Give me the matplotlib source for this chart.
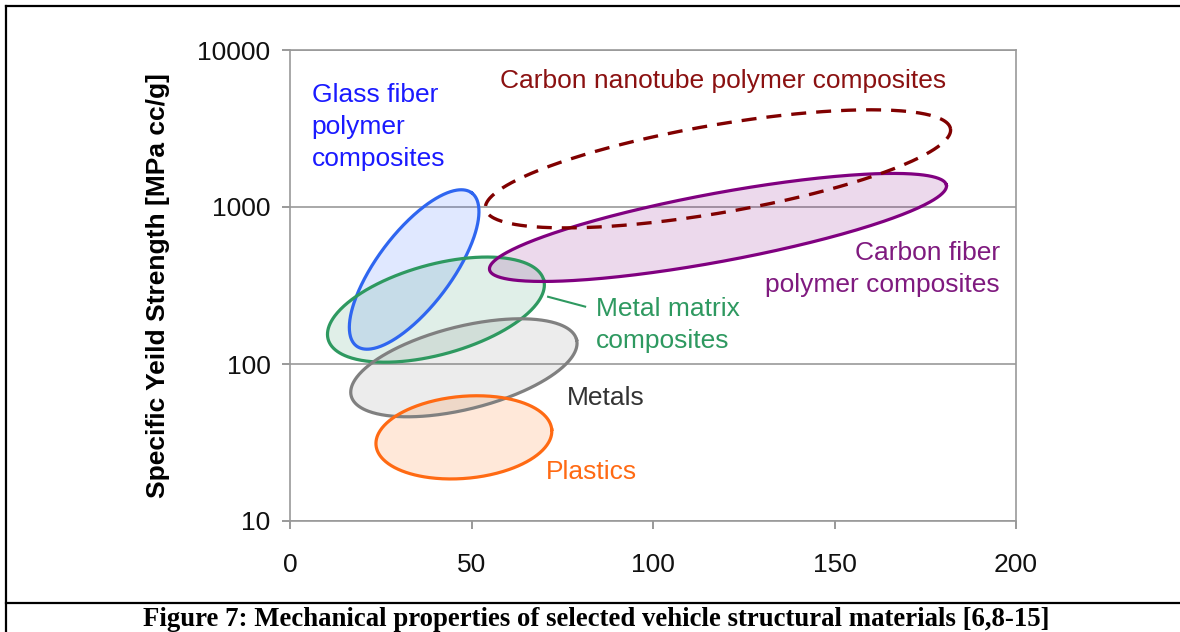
"""
Specific yield strength vs specific strength map of vehicle structural materials.
"""
import numpy as np
import matplotlib.pyplot as plt
from matplotlib.lines import Line2D

plt.rcParams["font.family"] = ["Liberation Sans", "DejaVu Sans"]

# material regions: centre (x, y), semi axes (in x units on screen), tilt in degrees
materials = ["Glass fiber", "Metal matrix", "Metals", "Plastics", "Carbon fiber", "Carbon nanotube"]
center_x = [34.2, 40.2, 47.9, 47.9, 117.9, 117.9]
center_y = [400, 222, 94.6, 34.1, 741, 1750]
semi_major = [26.4, 30.8, 32.0, 24.3, 64.0, 65.0]
semi_minor = [10.2, 12.4, 11.4, 11.3, 9.4, 12.1]
tilt = [53, 15.4, 14, 5.1, 10.5, 9.8]

edge_colors = ["#2f66f0", "#2e9960", "#808080", "#ff6a13", "#800080", "#800000"]
fill_colors = ["#3366ff", "#339966", "#808080", "#ff6600", "#800080", "none"]

y_ticks = [10, 100, 1000, 10000]
x_ticks = [0, 50, 100, 150, 200]

FS = 19
fig = plt.figure(figsize=(11.8, 6.32), dpi=100)
ax = fig.add_axes([290 / 1180, 111 / 632, 726 / 1180, 471 / 632])
ax.set_xlim(0, 200)
ax.set_yscale("log")
ax.set_ylim(10, 10000)

fw, fh = fig.get_size_inches() * fig.dpi
pos = ax.get_position()
px_per_x = pos.width * fw / 200
px_per_dec = pos.height * fh / 3

t = np.linspace(0, 2 * np.pi, 400)
for i in range(len(materials)):
    th = np.radians(tilt[i])
    u = semi_major[i] * np.cos(t)
    v = semi_minor[i] * np.sin(t)
    du = u * np.cos(th) - v * np.sin(th)
    dv = u * np.sin(th) + v * np.cos(th)
    xs = center_x[i] + du
    ys = 10 ** (np.log10(center_y[i]) + dv * px_per_x / px_per_dec)
    if fill_colors[i] != "none":
        ax.fill(xs, ys, color=fill_colors[i], alpha=0.15, lw=0, zorder=2)
        ax.plot(xs, ys, color=edge_colors[i], lw=2.3, zorder=3)
    else:
        ax.plot(xs, ys, color=edge_colors[i], lw=2.4, ls=(0, (4.5, 3)), zorder=4)

# labels
LS = 1.42
ax.text(6, 3220, "Glass fiber\npolymer\ncomposites", color="#1a1aff", fontsize=FS,
        ha="left", va="center", linespacing=LS)
ax.text(57.9, 6310, "Carbon nanotube polymer composites", color="#8b1111", fontsize=FS,
        ha="left", va="center")
ax.text(195.6, 400, "Carbon fiber\npolymer composites", color="#7f1a7f", fontsize=FS,
        ha="right", va="center", multialignment="right", linespacing=LS)
ax.text(84.3, 178, "Metal matrix\ncomposites", color="#2e9960", fontsize=FS,
        ha="left", va="center", linespacing=LS)
ax.text(76.3, 61, "Metals", color="#333333", fontsize=FS, ha="left", va="center")
ax.text(70.5, 20.5, "Plastics", color="#ff6a13", fontsize=FS, ha="left", va="center")
ax.plot([71.1, 81.3], [268, 232], color="#2e9960", lw=1.5, zorder=3)

ax.set_yticks(y_ticks)
ax.set_yticklabels([str(v) for v in y_ticks])
ax.yaxis.set_minor_locator(plt.NullLocator())
ax.set_xticks(x_ticks)
ax.tick_params(labelsize=FS, colors="#888888", labelcolor="#111111", length=6, width=1.2,
               pad=8)
ax.tick_params(axis="x", pad=17)
ax.grid(axis="y", color="#999999", lw=1.2)
for s in ax.spines.values():
    s.set_color("#999999")
    s.set_linewidth(1.2)
ax.set_axisbelow(True)
ax.set_ylabel("Specific Yeild Strength [MPa cc/g]", fontsize=FS, fontweight="bold", labelpad=20)

# frame and caption
for xy in [([6 / 1180, 6 / 1180], [0, 1 - 6 / 632]),
           ([6 / 1180, 1], [1 - 6 / 632, 1 - 6 / 632]),
           ([6 / 1180, 1], [1 - 603 / 632, 1 - 603 / 632])]:
    fig.add_artist(Line2D(xy[0], xy[1], color="black", lw=1.6, transform=fig.transFigure))
fig.text(596 / 1180, 1 - 620 / 632,
         "Figure 7: Mechanical properties of selected vehicle structural materials [6,8-15]",
         family=["Liberation Serif", "DejaVu Serif"], fontweight="bold", fontsize=19.3,
         ha="center", va="center")

fig.savefig("out.png", dpi=100)
